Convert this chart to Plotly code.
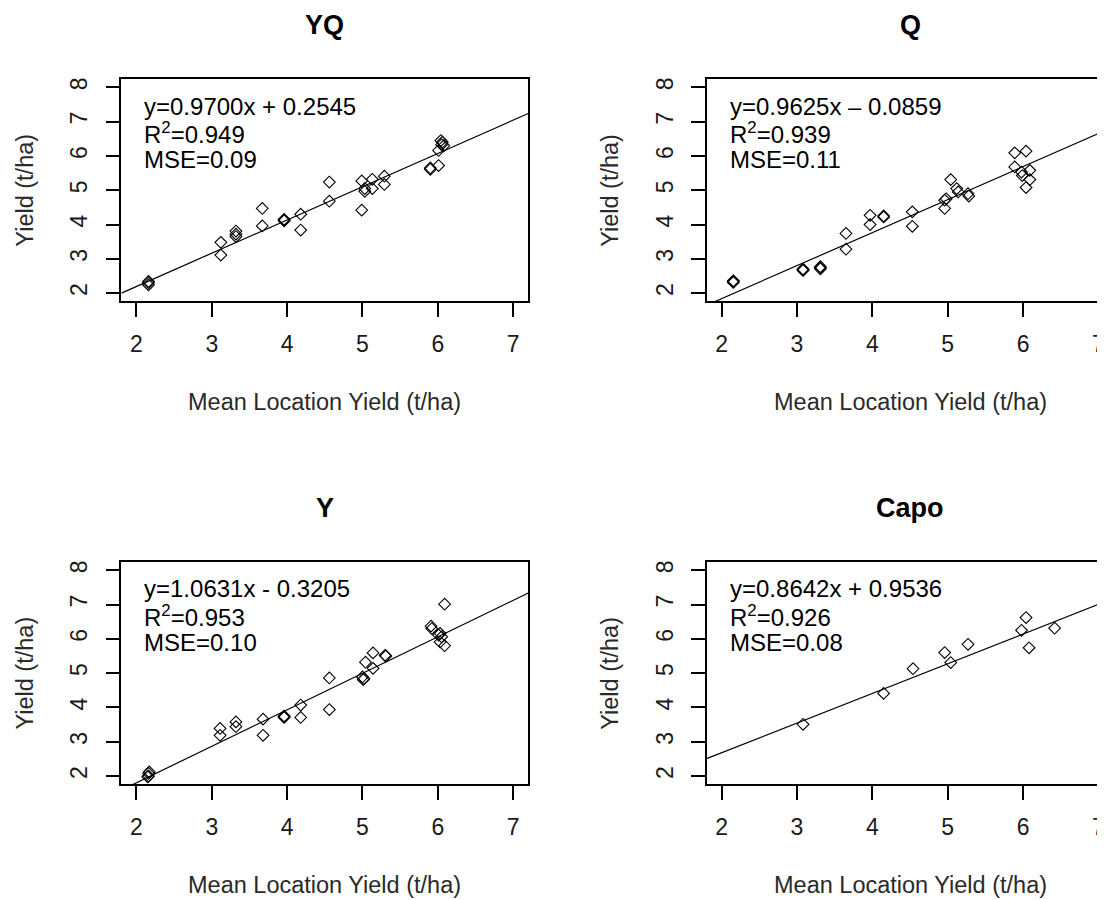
import plotly.graph_objects as go

# ---------------- data ----------------
panel_titles = ["YQ", "Q", "Y", "Capo"]

yq_x = [2.16, 2.16, 2.16, 3.12, 3.12, 3.32, 3.32, 3.32, 3.67, 3.67, 3.96, 3.96, 3.96,
        4.18, 4.18, 4.56, 4.56, 4.99, 4.99, 5.03, 5.03, 5.13, 5.13, 5.29, 5.29,
        5.90, 5.90, 6.01, 6.01, 6.04, 6.06, 6.08, 6.05]
yq_y = [2.34, 2.24, 2.30, 3.48, 3.11, 3.81, 3.72, 3.65, 4.47, 3.96, 4.13, 4.15, 4.11,
        4.30, 3.84, 5.24, 4.68, 5.27, 4.42, 5.05, 4.97, 5.32, 5.05, 5.41, 5.17,
        5.65, 5.61, 5.72, 6.16, 6.45, 6.40, 6.30, 6.33]

q_x = [2.155, 2.155, 2.155, 3.08, 3.08, 3.08, 3.31, 3.31, 3.31, 3.65, 3.65, 3.97, 3.97,
       4.15, 4.15, 4.53, 4.53, 4.96, 4.96, 4.98, 5.04, 5.12, 5.14, 5.27, 5.28,
       5.89, 5.89, 6.04, 5.98, 5.99, 6.09, 6.09, 6.04]
q_y = [2.34, 2.31, 2.36, 2.68, 2.66, 2.70, 2.74, 2.77, 2.71, 3.74, 3.28, 4.27, 4.00,
       4.25, 4.22, 4.37, 3.95, 4.71, 4.47, 4.75, 5.31, 5.05, 4.95, 4.90, 4.83,
       6.09, 5.68, 6.14, 5.53, 5.43, 5.58, 5.31, 5.08]

y_x = [2.16, 2.16, 2.17, 2.15, 3.11, 3.11, 3.32, 3.32, 3.68, 3.68, 3.96, 3.96, 3.96,
       4.18, 4.18, 4.56, 4.56, 5.00, 5.01, 5.02, 5.04, 5.14, 5.14, 5.30, 5.31,
       5.91, 5.92, 6.09, 6.01, 6.03, 6.05, 6.03, 6.09]
y_y = [2.00, 2.08, 2.12, 1.98, 3.39, 3.19, 3.58, 3.44, 3.66, 3.19, 3.75, 3.71, 3.73,
       4.07, 3.71, 4.86, 3.94, 4.89, 4.81, 4.84, 5.32, 5.59, 5.14, 5.52, 5.50,
       6.37, 6.30, 7.01, 6.11, 6.16, 6.06, 5.91, 5.80]

capo_x = [3.08, 4.15, 4.54, 4.96, 5.04, 5.27, 5.98, 6.04, 6.08, 6.42]
capo_y = [3.51, 4.41, 5.13, 5.60, 5.31, 5.84, 6.25, 6.62, 5.74, 6.31]

slopes = [0.9700, 0.9625, 1.0631, 0.8642]
intercepts = [0.2545, -0.0859, -0.3205, 0.9536]
eq_texts = ["y=0.9700x + 0.2545", "y=0.9625x \u2013 0.0859",
            "y=1.0631x - 0.3205", "y=0.8642x + 0.9536"]
r2_texts = ["0.949", "0.939", "0.953", "0.926"]
mse_texts = ["0.09", "0.11", "0.10", "0.08"]

x_ticks = [2, 3, 4, 5, 6, 7]
y_ticks = [2, 3, 4, 5, 6, 7, 8]
x_title = "Mean Location Yield (t/ha)"
y_title = "Yield (t/ha)"

xs_all = [yq_x, q_x, y_x, capo_x]
ys_all = [yq_y, q_y, y_y, capo_y]

# ---------------- layout geometry (pixels in the 1105x900 window) ----------------
PAGE_W, PAGE_H = 1105, 900
OFF = 8  # browser body margin
W, H = PAGE_W - OFF, PAGE_H - OFF
FONT = "Liberation Sans, Arial, sans-serif"
UNIT_X = 75.34
lefts = [121.4, 706.6, 121.4, 706.6]
tops = [77.3, 77.3, 561.2, 561.2]
bottoms = [300.0, 300.0, 784.1, 784.1]
XMIN, XMAX_FULL = 1.8, 7.2
YMIN, YMAX = 1.76, 8.24


def px(x):
    return (x - OFF) / W


def py(y):
    return 1 - (y - OFF) / H


fig = go.Figure()
annotations = []
layout_axes = {}

for i in range(4):
    n = "" if i == 0 else str(i + 1)
    left = lefts[i]
    right_full = left + (XMAX_FULL - XMIN) * UNIT_X
    right = min(right_full, PAGE_W)
    xmax = XMIN + (right - left) / UNIT_X
    clipped = right_full > PAGE_W

    fig.add_trace(go.Scatter(
        x=xs_all[i], y=ys_all[i], mode="markers",
        marker=dict(symbol="diamond-open", size=9, color="black",
                    line=dict(width=1.1, color="black")),
        xaxis="x" + n, yaxis="y" + n, showlegend=False, cliponaxis=True))
    lx = [XMIN, XMAX_FULL]
    ly = [slopes[i] * v + intercepts[i] for v in lx]
    fig.add_trace(go.Scatter(
        x=lx, y=ly, mode="lines", line=dict(color="black", width=1.2),
        xaxis="x" + n, yaxis="y" + n, showlegend=False))

    layout_axes["xaxis" + n] = dict(
        domain=[px(left), min(px(right), 1.0)], range=[XMIN, xmax], anchor="y" + n,
        tickvals=x_ticks, ticks="outside", ticklen=14, tickwidth=1.6,
        tickcolor="black", showline=True, linecolor="black", linewidth=1.6,
        mirror=True, showgrid=False, zeroline=False,
        tickfont=dict(family=FONT, size=23, color="#1a1a1a"),
        ticklabelstandoff=7)
    layout_axes["yaxis" + n] = dict(
        domain=[py(bottoms[i]), py(tops[i])], range=[YMIN, YMAX], anchor="x" + n,
        tickvals=y_ticks, ticks="outside", ticklen=14, tickwidth=1.6,
        tickcolor="black", showline=True, linecolor="black", linewidth=1.6,
        mirror=(not clipped), showgrid=False, zeroline=False, tickangle=-90,
        tickfont=dict(family=FONT, size=23, color="#1a1a1a"),
        ticklabelstandoff=9)

    cx = (left + right_full) / 2
    annotations.append(dict(
        text="<b>%s</b>" % panel_titles[i], x=px(cx), y=py(tops[i] - 54.5),
        xref="paper", yref="paper", showarrow=False, xanchor="center", yanchor="middle",
        font=dict(family=FONT, size=27, color="black")))
    annotations.append(dict(
        text=x_title, x=px(cx), y=py(bottoms[i] + 101),
        xref="paper", yref="paper", showarrow=False, xanchor="center", yanchor="middle",
        font=dict(family=FONT, size=23.5, color="#2a2a2a")))
    annotations.append(dict(
        text=y_title, x=px(left - 96), y=py((tops[i] + bottoms[i]) / 2),
        xref="paper", yref="paper", showarrow=False, xanchor="center", yanchor="middle",
        textangle=-90, font=dict(family=FONT, size=23.5, color="#2a2a2a")))
    tx = left + 21
    lines = [eq_texts[i], "R<sup>2</sup>=" + r2_texts[i], "MSE=" + mse_texts[i]]
    for k, t in enumerate(lines):
        annotations.append(dict(
            text=t, x=px(tx), y=py(tops[i] + 27 + 26.7 * k),
            xref="paper", yref="paper", showarrow=False, xanchor="left", yanchor="middle",
            font=dict(family=FONT, size=24, color="black")))

fig.update_layout(
    width=W, height=H, margin=dict(l=0, r=0, t=0, b=0),
    paper_bgcolor="white", plot_bgcolor="white",
    annotations=annotations, **layout_axes)

fig.write_html("out.html")
